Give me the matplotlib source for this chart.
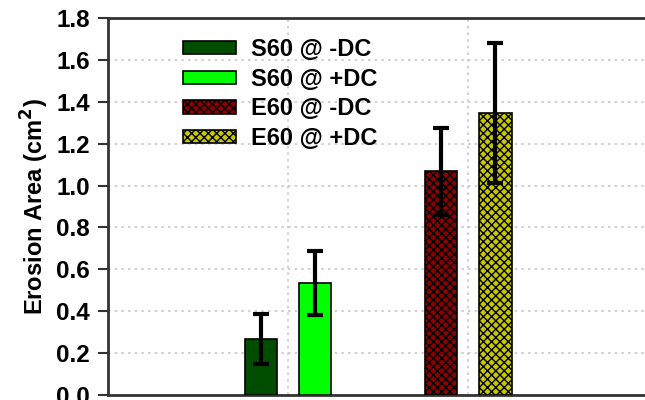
import matplotlib
matplotlib.use("Agg")
import matplotlib.pyplot as plt

plt.rcParams['font.family'] = ['Liberation Sans', 'DejaVu Sans']
plt.rcParams['hatch.linewidth'] = 1.0

# data
groups = [1, 2]
labels = ['S60 @ -DC', 'S60 @ +DC', 'E60 @ -DC', 'E60 @ +DC']
group_of = [0, 0, 1, 1]
side = [-1, 1, -1, 1]
values = [0.266, 0.533, 1.068, 1.345]
errors = [0.12, 0.153, 0.207, 0.335]
colors = ['#004d00', '#00ff00', '#8b0000', '#c8c800']
hatches = [None, None, 'xxxx', 'xxxx']
yticks = [0.0, 0.2, 0.4, 0.6, 0.8, 1.0, 1.2, 1.4, 1.6, 1.8]

fig = plt.figure(figsize=(6.45, 4.0), dpi=100)
ax = fig.add_axes([0.1674, 0.0125, 0.8326, 0.9425])

offset = 0.15
width = 0.183
for i in range(len(values)):
    x = groups[group_of[i]] + side[i] * offset
    ax.bar(x, values[i], width, color=colors[i], edgecolor='black',
           linewidth=1.2, hatch=hatches[i], label=labels[i], zorder=3)
    ax.errorbar(x, values[i], yerr=errors[i], fmt='none', ecolor='black',
                elinewidth=3, capsize=6, capthick=3, zorder=4)

ax.set_xlim(0, 2.983)
ax.set_ylim(0, 1.8)
ax.set_yticks(yticks)
ax.set_yticklabels(['%.1f' % v for v in yticks], fontsize=17.5, fontweight='bold')
ax.set_xticks(groups)
ax.set_xticklabels([])
ax.tick_params(axis='x', length=0)
ax.tick_params(axis='y', direction='out', length=7, width=1.5, color='#333333', pad=6)

ax.grid(True, color='#c8c8c8', linestyle=(0, (1.5, 2.5)), linewidth=1.2, zorder=0)
ax.set_axisbelow(True)

for s in ['left', 'top', 'bottom']:
    ax.spines[s].set_linewidth(2)
    ax.spines[s].set_color('#333333')
ax.spines['right'].set_visible(False)

ax.set_ylabel('Erosion Area (cm$^\\mathbf{2}$)', fontsize=17, fontweight='bold', labelpad=4)

ax.legend(loc='upper left', bbox_to_anchor=(0.1, 1.003), frameon=False,
          prop={'size': 17, 'weight': 'bold'}, handlelength=2.25, handleheight=0.5,
          handletextpad=0.62, labelspacing=0.28)

fig.savefig('out.png', dpi=100)
